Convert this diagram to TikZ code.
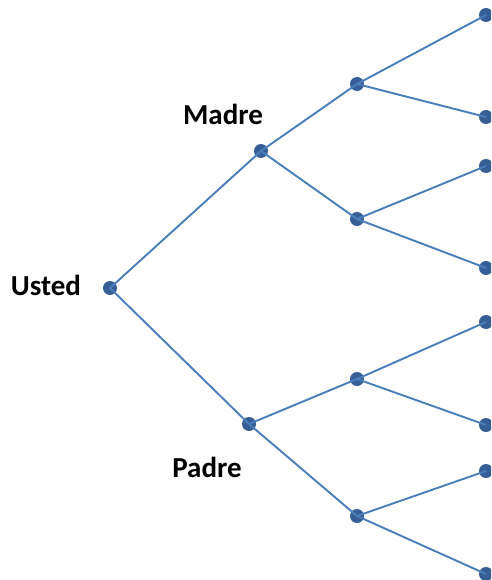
\documentclass[tikz,border=0pt]{standalone}
\usepackage{fontspec}
\setmainfont{Carlito}
\definecolor{linec}{RGB}{74,126,187}
\definecolor{dotc}{RGB}{56,94,150}
\begin{document}
\begin{tikzpicture}[x=1pt,y=-1pt,
  dotn/.style={circle,fill=dotc,inner sep=0pt,minimum size=14pt},
  conn/.style={draw=linec,line width=1.9pt},
  lbl/.style={font=\fontsize{29}{34}\selectfont\bfseries,inner sep=0pt}]
\clip (0,0) rectangle (491,580);
\fill[white] (0,0) rectangle (491,580);
\node[dotn] (u) at (110,288) {};
\node[dotn] (m) at (261,151) {};
\node[dotn] (p) at (249,424) {};
\node[dotn] (m1) at (357,84) {};
\node[dotn] (m2) at (357,219) {};
\node[dotn] (p1) at (357,379) {};
\node[dotn] (p2) at (357,516) {};
\node[dotn] (a1) at (486,15) {};
\node[dotn] (a2) at (486,117) {};
\node[dotn] (a3) at (486,166) {};
\node[dotn] (a4) at (486,268) {};
\node[dotn] (a5) at (486,322) {};
\node[dotn] (a6) at (486,425) {};
\node[dotn] (a7) at (486,471) {};
\node[dotn] (a8) at (486,574) {};
\foreach \s/\t in {u/m,u/p,m/m1,m/m2,p/p1,p/p2,m1/a1,m1/a2,m2/a3,m2/a4,p1/a5,p1/a6,p2/a7,p2/a8}
  \draw[conn] (\s.center) -- (\t.center);
\node[lbl] (lu) at (46,285) {Usted};
\node[lbl] (lm) at (223,114) {Madre};
\node[lbl] (lp) at (207,467) {Padre};
\end{tikzpicture}
\end{document}
